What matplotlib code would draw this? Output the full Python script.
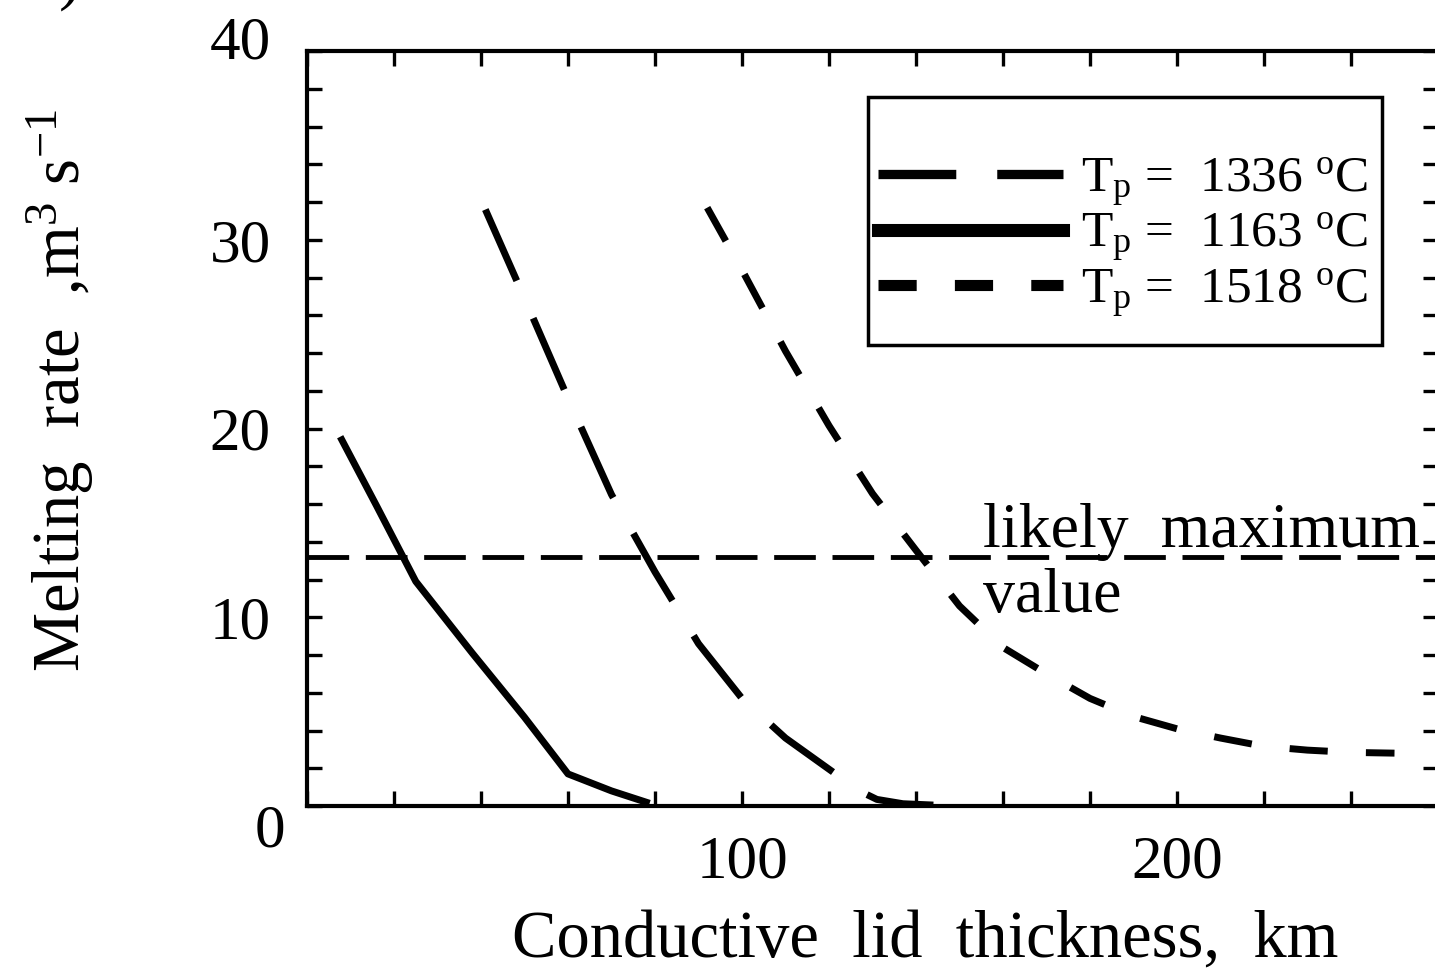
import matplotlib
matplotlib.use("Agg")
import matplotlib.pyplot as plt
import matplotlib.transforms as mtransforms
from matplotlib.lines import Line2D
from matplotlib.patches import Rectangle

plt.rcParams["font.family"] = ["Liberation Serif", "DejaVu Serif"]
plt.rcParams["mathtext.fontset"] = "custom"
plt.rcParams["mathtext.rm"] = "Liberation Serif"
plt.rcParams["mathtext.it"] = "Liberation Serif:italic"
plt.rcParams["lines.scale_dashes"] = False

# lid thickness (km) vs melting rate (m^3/s)
lid_1163 = [8, 16, 25, 38, 50, 60, 70, 78]
rate_1163 = [19.4, 15.9, 11.9, 8.1, 4.7, 1.7, 0.8, 0.2]

lid_1336 = [41, 50, 60, 70, 80, 90, 100, 110, 120, 127, 131, 137, 144]
rate_1336 = [31.6, 26.9, 21.6, 16.5, 12.4, 8.6, 5.7, 3.6, 1.95, 0.8, 0.35, 0.12, 0.05]

lid_1518 = [92, 100, 110, 120, 130, 140, 150, 160, 170, 180, 190, 200,
            210, 220, 230, 240, 250]
rate_1518 = [31.7, 28.4, 24.1, 20.15, 16.55, 13.55, 10.6, 8.4, 7.0, 5.7,
             4.74, 4.09, 3.6, 3.16, 2.96, 2.84, 2.8]

likely_max = 13.2
labels = [r"T$_\mathrm{p}$ =  1336 $^\mathrm{o}$C",
          r"T$_\mathrm{p}$ =  1163 $^\mathrm{o}$C",
          r"T$_\mathrm{p}$ =  1518 $^\mathrm{o}$C"]

long_dash = (0, (56, 29.5))
short_dash = (0, (27.5, 27.5))

fig = plt.figure(figsize=(14.35, 9.71), dpi=100)
ax = fig.add_axes([307 / 1435, 1 - 806 / 971, 1131 / 1435, 755 / 971])

ax.plot(lid_1336, rate_1336, color="black", lw=5, linestyle=long_dash)
ax.plot(lid_1163, rate_1163, color="black", lw=5)
ax.plot(lid_1518, rate_1518, color="black", lw=5, linestyle=short_dash)
ax.axhline(likely_max, color="black", lw=3.5, linestyle=(0, (30, 12)))

ax.text(155.4, 13.7, "likely  maximum", fontsize=46, va="baseline")
ax.text(155.4, 10.3, "value", fontsize=46, va="baseline")

ax.set_xlim(0, 260)
ax.set_ylim(0, 40)
ax.set_xticks(range(0, 261, 20))
ax.set_xticklabels(["100" if v == 100 else "200" if v == 200 else ""
                    for v in range(0, 261, 20)])
ax.set_yticks(range(0, 41, 2))
ax.set_yticklabels([str(v) if v in (10, 20, 30, 40) else ""
                    for v in range(0, 41, 2)])
ax.tick_params(which="both", direction="in", top=True, right=True,
               length=10.5, width=2.4, labelsize=44)
ax.tick_params(axis="x", pad=21)
ax.tick_params(axis="y", pad=26)
for s in ax.spines.values():
    s.set_linewidth(3)

lab40 = ax.get_yticklabels()[-1]
lab40.set_transform(lab40.get_transform() +
                    mtransforms.ScaledTranslation(0, 0.14, fig.dpi_scale_trans))

fig.text(270 / 1435, 1 - 832 / 971, "0", fontsize=44, ha="center", va="center")
fig.text(925 / 1435, 1 - 940 / 971, "Conductive  lid  thickness,  km",
         fontsize=48, ha="center", va="center")
fig.text(60 / 1435, 1 - 390 / 971, r"Melting  rate  ,m$^3$ s$^{-1}$",
         fontsize=48, rotation=90, ha="center", va="center")
fig.text(70 / 1435, 1 + 20 / 971, ")", fontsize=48, ha="center", va="center")

# legend box drawn by hand, entries inside
ax.add_patch(Rectangle(((868 - 307) / 1131, (806 - 345) / 755),
                       514 / 1131, 248 / 755, transform=ax.transAxes,
                       fill=False, lw=2.5, color="black", zorder=5))
handles = [Line2D([], [], color="black", lw=6.7, linestyle=long_dash),
           Line2D([], [], color="black", lw=9.4),
           Line2D([], [], color="black", lw=8, linestyle=short_dash)]
ax.legend(handles, labels, loc="center left", frameon=False,
          bbox_to_anchor=((878 - 307) / 1131, (806 - 238) / 755),
          borderaxespad=0, borderpad=0, fontsize=37, handlelength=3.6,
          handletextpad=0.35, labelspacing=0.05)

fig.savefig("out.png", dpi=100)
plt.close(fig)
